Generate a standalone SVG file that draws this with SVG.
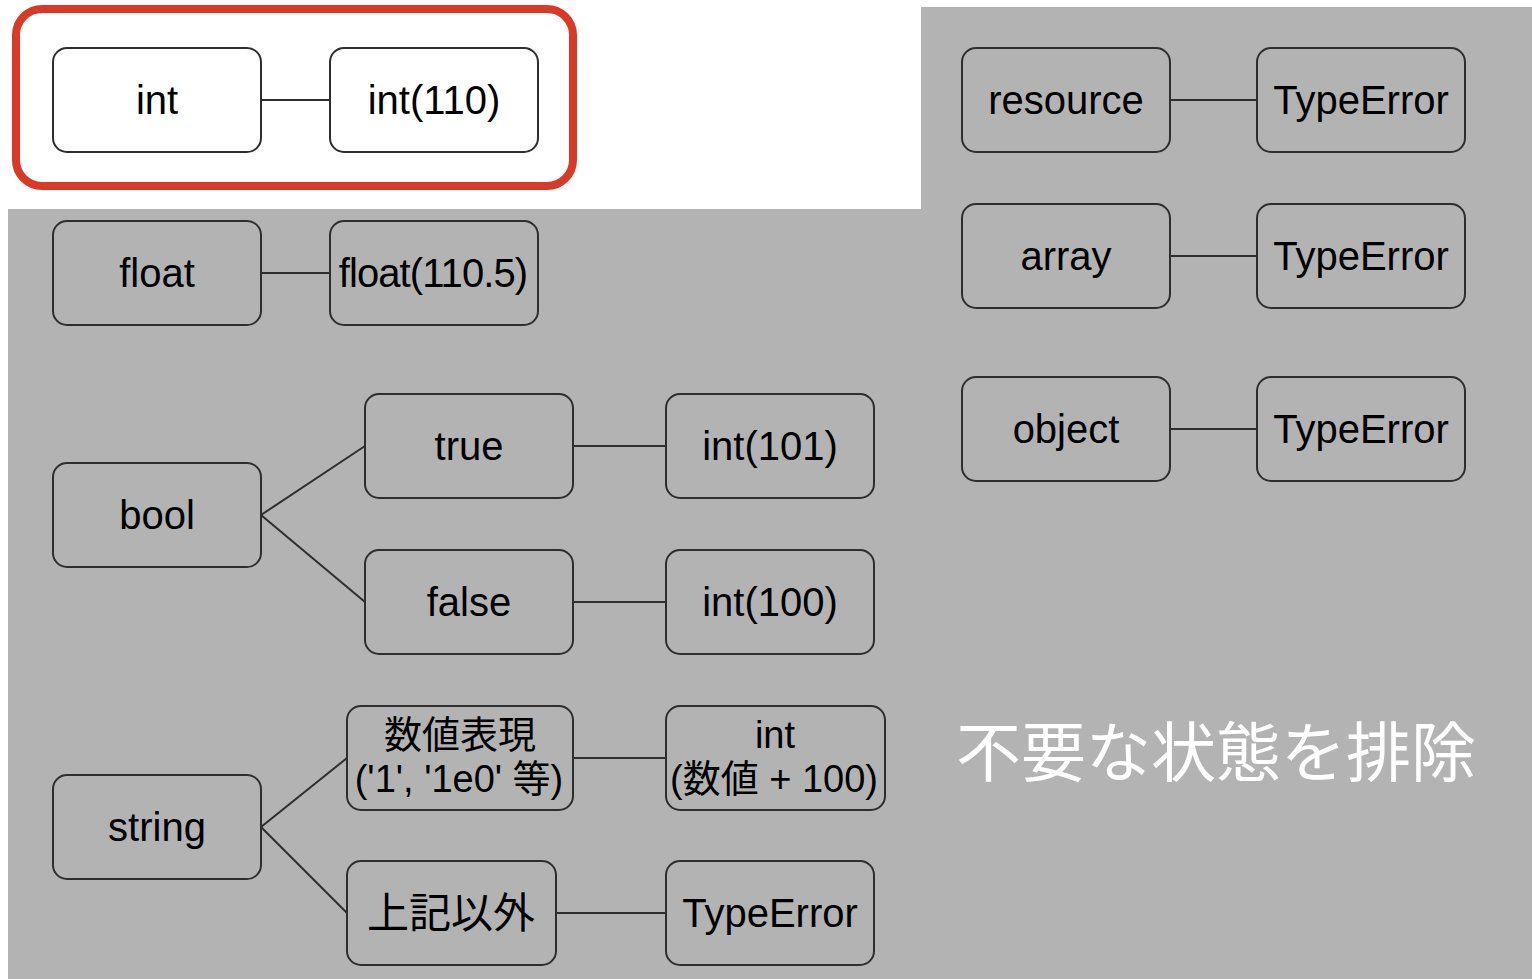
<svg xmlns="http://www.w3.org/2000/svg" width="1532" height="979" viewBox="0 0 1532 979">
<style>
.n rect{fill:#b3b3b3;stroke:#2e2e2e;stroke-width:2}
.w rect{fill:#ffffff}
.n text{font-family:"Liberation Sans","Noto Sans CJK JP",sans-serif;font-size:40px;fill:#000;text-anchor:middle;dominant-baseline:central}
.n text.s{font-size:38px}
.n text.j{font-size:42px}
#edges line{stroke:#2e2e2e;stroke-width:2}
</style>
<rect width="1532" height="979" fill="#ffffff"/>
<polygon points="921,7 1532,7 1532,979 8,979 8,209 921,209" fill="#b3b3b3"/>
<rect x="16" y="9" width="557" height="177" rx="26" fill="none" stroke="#d93a28" stroke-width="8"/>
<g id="edges">
<line x1="261" y1="100" x2="330" y2="100"/>
<line x1="261" y1="273" x2="330" y2="273"/>
<line x1="261" y1="515" x2="365" y2="446"/>
<line x1="261" y1="515" x2="365" y2="602"/>
<line x1="573" y1="446" x2="666" y2="446"/>
<line x1="573" y1="602" x2="666" y2="602"/>
<line x1="261" y1="827" x2="347" y2="758"/>
<line x1="261" y1="827" x2="347" y2="913"/>
<line x1="573" y1="758" x2="666" y2="758"/>
<line x1="556" y1="913" x2="666" y2="913"/>
<line x1="1170" y1="100" x2="1257" y2="100"/>
<line x1="1170" y1="256" x2="1257" y2="256"/>
<line x1="1170" y1="429" x2="1257" y2="429"/>
</g>
<g id="int" class="n w"><rect x="53" y="48" width="208" height="104" rx="14"/><text x="157" y="100">int</text></g>
<g id="int110" class="n w"><rect x="330" y="48" width="208" height="104" rx="14"/><text x="434" y="100">int(110)</text></g>
<g id="float" class="n"><rect x="53" y="221" width="208" height="104" rx="14"/><text x="157" y="273">float</text></g>
<g id="float1105" class="n"><rect x="330" y="221" width="208" height="104" rx="14"/><text x="433" y="273" letter-spacing="-0.9">float(110.5)</text></g>
<g id="bool" class="n"><rect x="53" y="463" width="208" height="104" rx="14"/><text x="157" y="515">bool</text></g>
<g id="true" class="n"><rect x="365" y="394" width="208" height="104" rx="14"/><text x="469" y="446">true</text></g>
<g id="int101" class="n"><rect x="666" y="394" width="208" height="104" rx="14"/><text x="770" y="446">int(101)</text></g>
<g id="false" class="n"><rect x="365" y="550" width="208" height="104" rx="14"/><text x="469" y="602">false</text></g>
<g id="int100" class="n"><rect x="666" y="550" width="208" height="104" rx="14"/><text x="770" y="602">int(100)</text></g>
<g id="string" class="n"><rect x="53" y="775" width="208" height="104" rx="14"/><text x="157" y="827">string</text></g>
<g id="numeric" class="n"><rect x="347" y="706" width="226" height="104" rx="14"/><text class="s" x="460" y="735">数値表現</text><text class="s" x="459" y="779">('1', '1e0' 等)</text></g>
<g id="intnum" class="n"><rect x="666" y="706" width="219" height="104" rx="14"/><text class="s" x="775" y="735">int</text><text class="s" x="774" y="779">(数値 + 100)</text></g>
<g id="other" class="n"><rect x="347" y="861" width="209" height="104" rx="14"/><text class="j" x="451" y="913">上記以外</text></g>
<g id="te1" class="n"><rect x="666" y="861" width="208" height="104" rx="14"/><text x="770" y="913">TypeError</text></g>
<g id="resource" class="n"><rect x="962" y="48" width="208" height="104" rx="14"/><text x="1066" y="100">resource</text></g>
<g id="te2" class="n"><rect x="1257" y="48" width="208" height="104" rx="14"/><text x="1361" y="100">TypeError</text></g>
<g id="array" class="n"><rect x="962" y="204" width="208" height="104" rx="14"/><text x="1066" y="256">array</text></g>
<g id="te3" class="n"><rect x="1257" y="204" width="208" height="104" rx="14"/><text x="1361" y="256">TypeError</text></g>
<g id="object" class="n"><rect x="962" y="377" width="208" height="104" rx="14"/><text x="1066" y="429">object</text></g>
<g id="te4" class="n"><rect x="1257" y="377" width="208" height="104" rx="14"/><text x="1361" y="429">TypeError</text></g>
<text x="1216" y="776" font-family="'Noto Sans CJK JP',sans-serif" font-size="65" fill="#ffffff" text-anchor="middle">不要な状態を排除</text>
</svg>
